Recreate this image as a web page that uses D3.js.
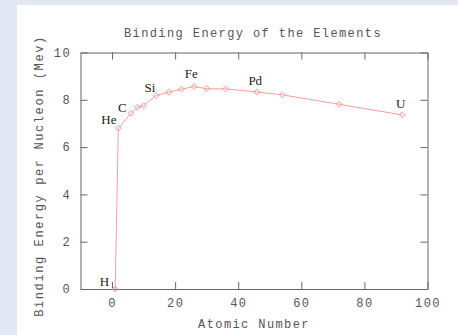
<!DOCTYPE html>
<html>
<head>
<meta charset="utf-8">
<script src="https://cdn.jsdelivr.net/npm/d3@7"></script>
<style>
  html, body { margin: 0; padding: 0; background: #e1e7f3; }
  #chart { position: relative; }
  .mono { font-family: "Liberation Mono", "DejaVu Sans Mono", monospace; font-size: 12px; letter-spacing: 1.4px; fill: #555; }
  .elem { font-family: "Liberation Serif", serif; font-size: 13px; fill: #222; }
</style>
</head>
<body>
<div id="chart"></div>
<script>
// Chart data
const atomicNumber = [1, 2, 6, 8, 10, 14, 18, 22, 26, 30, 36, 46, 54, 72, 92];
const bindingEnergy = [0, 6.8, 7.43, 7.68, 7.75, 8.18, 8.32, 8.45, 8.56, 8.47, 8.46, 8.33, 8.21, 7.81, 7.36];

// element labels and where they sit (data coordinates)
const labelText = ["H", "He", "C", "Si", "Fe", "Pd", "U"];
const labelX = [-2.4, -1, 3.3, 12, 25.1, 45.4, 91.5];
const labelY = [0.12, 6.96, 7.47, 8.35, 8.91, 8.63, 7.64];

const xTicks = [0, 20, 40, 60, 80, 100];
const yTicks = [0, 2, 4, 6, 8, 10];

const width = 458;
const height = 335;
const margin = { top: 52.5, right: 30.5, bottom: 46, left: 80.5 };

const svg = d3.select("#chart").append("svg")
    .attr("width", width)
    .attr("height", height);

// white panel
svg.append("rect")
    .attr("x", 17).attr("y", 5)
    .attr("width", width - 17).attr("height", height - 5)
    .attr("fill", "#fff");

const x = d3.scaleLinear()
    .domain([-10, 100])
    .range([margin.left, width - margin.right]);

const y = d3.scaleLinear()
    .domain([0, 10])
    .range([height - margin.bottom, margin.top]);

// axes: ticks point inward, mirrored on top and right
svg.append("g")
    .attr("transform", `translate(0,${y(0)})`)
    .call(d3.axisBottom(x).tickValues(xTicks).tickSizeInner(-7).tickSizeOuter(0).tickPadding(9));

svg.append("g")
    .attr("transform", `translate(${x(-10)},0)`)
    .call(d3.axisLeft(y).tickValues(yTicks).tickSizeInner(-7).tickSizeOuter(0).tickPadding(9.5));

svg.append("g")
    .attr("transform", `translate(0,${y(10)})`)
    .call(d3.axisTop(x).tickValues(xTicks).tickSizeInner(-7).tickSizeOuter(0).tickFormat(""));

svg.append("g")
    .attr("transform", `translate(${x(100)},0)`)
    .call(d3.axisRight(y).tickValues(yTicks).tickSizeInner(-7).tickSizeOuter(0).tickFormat(""));

svg.selectAll(".domain, .tick line").attr("stroke", "#666");
svg.selectAll(".tick text").attr("class", "mono");
svg.selectAll("g").attr("font-family", null).attr("font-size", null);

// line and diamond markers
const points = atomicNumber.map((z, i) => [z, bindingEnergy[i]]);

svg.append("path")
    .datum(points)
    .attr("fill", "none")
    .attr("stroke", "#f5a0a0")
    .attr("stroke-width", 1)
    .attr("d", d3.line().x(d => x(d[0])).y(d => y(d[1])));

svg.append("g")
    .selectAll("path")
    .data(points)
    .enter().append("path")
    .attr("transform", d => `translate(${x(d[0])},${y(d[1])})`)
    .attr("d", "M0,-3L3,0L0,3L-3,0Z")
    .attr("fill", "none")
    .attr("stroke", "#f29a9a")
    .attr("stroke-width", 1);

// element labels
svg.append("g")
    .selectAll("text")
    .data(labelText)
    .enter().append("text")
    .attr("class", "elem")
    .attr("text-anchor", "middle")
    .attr("x", (d, i) => x(labelX[i]))
    .attr("y", (d, i) => y(labelY[i]))
    .text(d => d);

// titles
svg.append("text")
    .attr("class", "mono")
    .attr("text-anchor", "middle")
    .attr("x", 253).attr("y", 37)
    .text("Binding Energy of the Elements");

svg.append("text")
    .attr("class", "mono")
    .attr("text-anchor", "middle")
    .attr("x", 254).attr("y", 328)
    .text("Atomic Number");

svg.append("text")
    .attr("class", "mono")
    .attr("text-anchor", "middle")
    .attr("transform", "translate(43,176) rotate(-90)")
    .style("letter-spacing", "1.6px")
    .text("Binding Energy per Nucleon (Mev)");
</script>
</body>
</html>
